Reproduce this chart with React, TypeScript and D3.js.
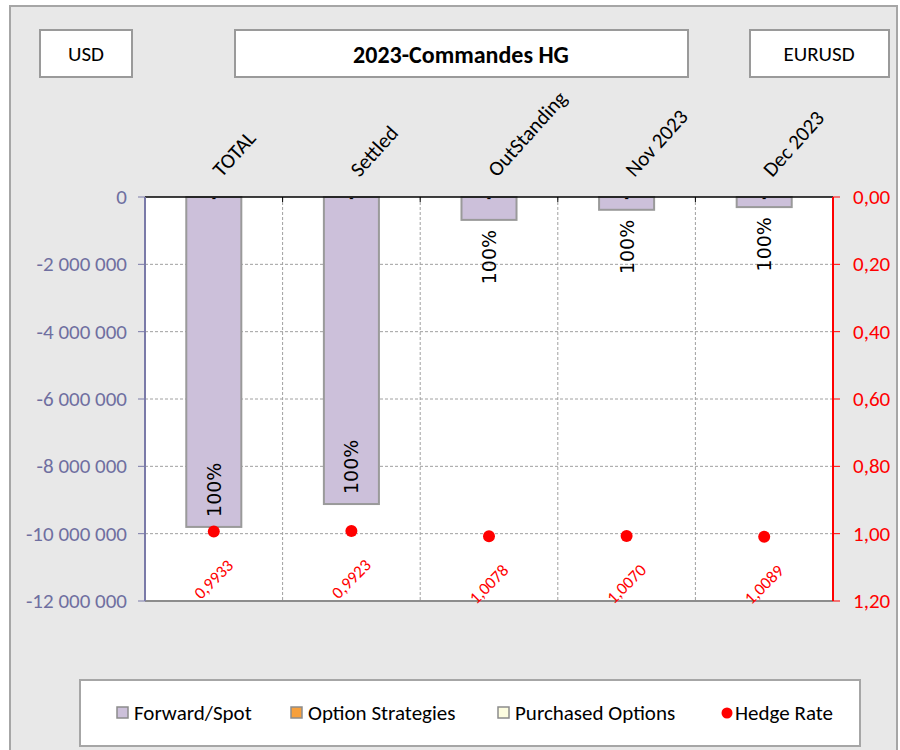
import * as d3 from "d3";

const categories = ["TOTAL", "Settled", "OutStanding", "Nov 2023", "Dec 2023"];
const forwardSpot = [-9800000, -9120000, -680000, -380000, -300000];
const hedgeRate = [0.9933, 0.9923, 1.0078, 1.007, 1.0089];
const coverage = ["100%", "100%", "100%", "100%", "100%"];
const leftTicks = [0, -2000000, -4000000, -6000000, -8000000, -10000000, -12000000];
const rightTicks = [0, 0.2, 0.4, 0.6, 0.8, 1.0, 1.2];
const legendItems = [
  { label: "Forward/Spot", color: "#ccc0da", kind: "rect" },
  { label: "Option Strategies", color: "#f7a03c", kind: "rect" },
  { label: "Purchased Options", color: "#fdfde0", kind: "rect" },
  { label: "Hedge Rate", color: "#ff0000", kind: "dot" },
];

const FONT = "Carlito, Calibri, 'Open Sans', sans-serif";

export default function App() {
  const left = 145, right = 833, top = 197, bottom = 601;

  const x = d3.scaleBand().domain(categories).range([left, right]).padding(0);
  const yL = d3.scaleLinear().domain([-12000000, 0]).range([bottom, top]);
  const yR = d3.scaleLinear().domain([0, 1.2]).range([top, bottom]);
  const bw = x.bandwidth() * 0.4;

  const fmtL = (v: number) => d3.format(",")(v).replace(/,/g, " ").replace("−", "-");
  const fmtR = (v: number, n: number) => v.toFixed(n).replace(".", ",");

  return (
    <svg width={900} height={750} style={{ position: "absolute", left: 0, top: 0, fontFamily: FONT }}>
      <rect x={0} y={0} width={900} height={750} fill="#ffffff" />
      <rect x={10} y={6} width={887} height={770} fill="#e8e8e8" stroke="#a6a6a6" strokeWidth={2} />

      {/* header boxes */}
      <rect x={40} y={30} width={92} height={47} fill="#fff" stroke="#9a9a9a" strokeWidth={2} />
      <text x={86} y={54} textAnchor="middle" dominantBaseline="central" fontSize={21}>USD</text>
      <rect x={235} y={30} width={453} height={47} fill="#fff" stroke="#9a9a9a" strokeWidth={2} />
      <text x={461} y={54} textAnchor="middle" dominantBaseline="central" fontSize={24} fontWeight="bold">2023-Commandes HG</text>
      <rect x={750} y={30} width={139} height={47} fill="#fff" stroke="#9a9a9a" strokeWidth={2} />
      <text x={819} y={54} textAnchor="middle" dominantBaseline="central" fontSize={21}>EURUSD</text>

      {/* plot area */}
      <rect x={left} y={top} width={right - left} height={bottom - top} fill="#fff" />
      {leftTicks.slice(1, -1).map((t) => (
        <line key={"g" + t} x1={left} x2={right} y1={yL(t)} y2={yL(t)} stroke="#a0a0a0" strokeDasharray="3,2" />
      ))}
      {categories.slice(1).map((c) => (
        <line key={"v" + c} x1={x(c)!} x2={x(c)!} y1={top} y2={bottom} stroke="#a0a0a0" strokeDasharray="3,2" />
      ))}
      <line x1={left} x2={right} y1={bottom} y2={bottom} stroke="#8c8c8c" strokeWidth={2} />

      {/* bars */}
      {categories.map((c, i) => (
        <rect key={"b" + c} x={x(c)! + (x.bandwidth() - bw) / 2} y={yL(0)} width={bw}
          height={yL(forwardSpot[i]) - yL(0)} fill="#ccc0da" stroke="#9a9a9a" strokeWidth={2} />
      ))}

      {/* category axis at top */}
      <line x1={left} x2={right} y1={top} y2={top} stroke="#000" strokeWidth={1.5} />
      {categories.map((c) => (
        <line key={"t" + c} x1={x(c)!} x2={x(c)!} y1={top} y2={top + 5} stroke="#000" />
      ))}
      <line x1={right} x2={right} y1={top} y2={top + 5} stroke="#000" />
      {categories.map((c) => {
        const cx = x(c)! + x.bandwidth() / 2;
        return (
          <text key={"c" + c} transform={`translate(${cx + 8},178) rotate(-48)`} fontSize={21}>{c}</text>
        );
      })}
      {categories.map((c) => (
        <text key={"d" + c} x={x(c)! + x.bandwidth() / 2} y={203} textAnchor="middle" fontSize={14}>-</text>
      ))}

      {/* coverage labels */}
      {categories.map((c, i) => {
        const cx = x(c)! + x.bandwidth() / 2;
        const yb = yL(forwardSpot[i]);
        const inside = yb - yL(0) > 80;
        return (
          <text key={"p" + c} transform={`translate(${cx},${inside ? yb - 10 : yb + 10}) rotate(-90)`}
            textAnchor={inside ? "start" : "end"} dominantBaseline="central" fontSize={19}
            fontFamily="'DejaVu Sans', sans-serif">{coverage[i]}</text>
        );
      })}

      {/* hedge rate */}
      {categories.map((c, i) => {
        const cx = x(c)! + x.bandwidth() / 2;
        const cy = yR(hedgeRate[i]);
        return (
          <g key={"h" + c}>
            <circle cx={cx} cy={cy} r={6} fill="#ff0000" />
            <text transform={`translate(${cx},${cy + 48}) rotate(-45)`} textAnchor="middle"
              dominantBaseline="central" fontSize={17} fill="#ff0000">{fmtR(hedgeRate[i], 4)}</text>
          </g>
        );
      })}

      {/* left axis */}
      <line x1={left} x2={left} y1={top} y2={bottom} stroke="#7a7aa8" strokeWidth={2} />
      {leftTicks.map((t) => (
        <g key={"l" + t}>
          <line x1={left - 7} x2={left} y1={yL(t)} y2={yL(t)} stroke="#7a7aa8" />
          <text x={127} y={yL(t)} textAnchor="end" dominantBaseline="central" fontSize={21} fill="#6f6fa0">{fmtL(t)}</text>
        </g>
      ))}

      {/* right axis */}
      <line x1={right} x2={right} y1={top} y2={bottom} stroke="#ff0000" strokeWidth={2} />
      {rightTicks.map((t) => (
        <g key={"r" + t}>
          <line x1={right} x2={right + 7} y1={yR(t)} y2={yR(t)} stroke="#ff0000" />
          <text x={853} y={yR(t)} dominantBaseline="central" fontSize={21} fill="#ff0000">{fmtR(t, 2)}</text>
        </g>
      ))}

      {/* legend */}
      <rect x={80} y={680} width={780} height={66} fill="#fff" stroke="#a6a6a6" strokeWidth={2} />
      {legendItems.map((d, i) => {
        const lx = [117, 291, 498, 722][i];
        return (
          <g key={"lg" + d.label}>
            {d.kind === "rect" ? (
              <rect x={lx} y={707} width={11} height={11} fill={d.color} stroke="#8c8c8c" strokeWidth={1.5} />
            ) : (
              <circle cx={lx + 5} cy={713} r={5.5} fill={d.color} />
            )}
            <text x={lx + (d.kind === "rect" ? 17 : 13)} y={713} dominantBaseline="central" fontSize={21}>{d.label}</text>
          </g>
        );
      })}
    </svg>
  );
}
